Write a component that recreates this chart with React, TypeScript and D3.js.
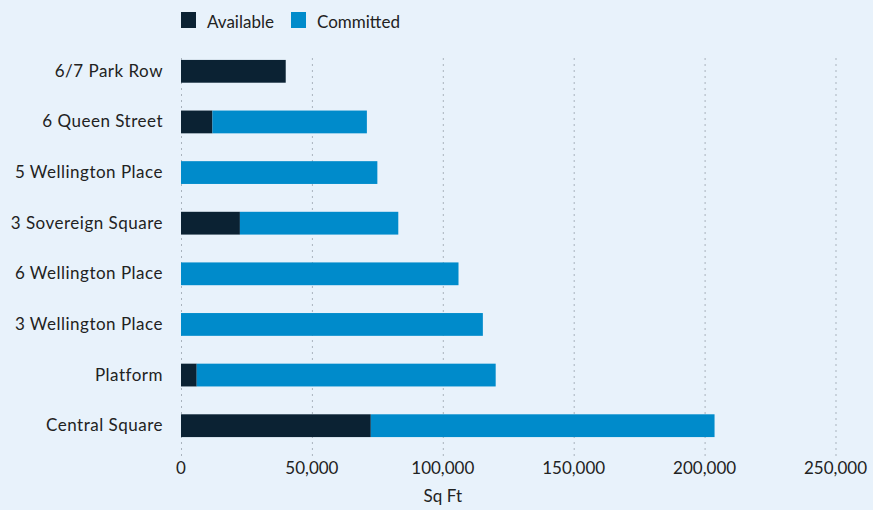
import React from "react";
import * as d3 from "d3";

const categories = [
  "6/7 Park Row",
  "6 Queen Street",
  "5 Wellington Place",
  "3 Sovereign Square",
  "6 Wellington Place",
  "3 Wellington Place",
  "Platform",
  "Central Square",
];
const available = [40000, 12000, 0, 22500, 0, 0, 6000, 72500];
const committed = [0, 59000, 75000, 60500, 106000, 115300, 114200, 131300];
const xTicks = [0, 50000, 100000, 150000, 200000, 250000];
const seriesNames = ["Available", "Committed"];
const seriesColors = ["#0b2233", "#008bcb"];

const W = 873;
const H = 510;
const FONT = "Lato, 'Open Sans', sans-serif";

export default function App() {
  const x = d3.scaleLinear().domain([0, 250000]).range([181, 835.5]);
  const y = d3
    .scaleBand<string>()
    .domain(categories)
    .range([46, 451])
    .paddingInner(0.55)
    .paddingOuter(0.275);
  const fmt = d3.format(",");
  const stack = categories.map((c, i) => ({
    c,
    a: available[i],
    m: committed[i],
  }));
  return (
    <svg
      width={W}
      height={H}
      style={{ position: "absolute", left: 0, top: 0, background: "#e8f2fb" }}
    >
      <rect x={0} y={0} width={W} height={H} fill="#e8f2fb" />
      {/* grid */}
      {xTicks.map((t) => (
        <line
          key={t}
          x1={x(t) + 0.5}
          x2={x(t) + 0.5}
          y1={58}
          y2={456}
          stroke="#a9b3bd"
          strokeWidth={1}
          strokeDasharray="2,4"
        />
      ))}
      {/* bars */}
      {stack.map((d) => (
        <g key={d.c}>
          {d.a > 0 && (
            <rect
              x={x(0)}
              y={y(d.c)!}
              width={x(d.a) - x(0)}
              height={y.bandwidth()}
              fill={seriesColors[0]}
            />
          )}
          {d.m > 0 && (
            <rect
              x={x(d.a)}
              y={y(d.c)!}
              width={x(d.a + d.m) - x(d.a)}
              height={y.bandwidth()}
              fill={seriesColors[1]}
            />
          )}
          <text
            x={163}
            y={y(d.c)! + y.bandwidth() / 2 - 1}
            textAnchor="end"
            dominantBaseline="central"
            fontFamily={FONT}
            fontSize={17}
            letterSpacing={0.5}
            fill="#222"
          >
            {d.c}
          </text>
        </g>
      ))}
      {/* x tick labels */}
      {xTicks.map((t) => (
        <text
          key={t}
          x={x(t)}
          y={467}
          textAnchor="middle"
          dominantBaseline="central"
          fontFamily={FONT}
          fontSize={17}
          fill="#222"
        >
          {fmt(t)}
        </text>
      ))}
      <text
        x={x(100000)}
        y={495}
        textAnchor="middle"
        dominantBaseline="central"
        fontFamily={FONT}
        fontSize={17}
        fill="#222"
      >
        Sq Ft
      </text>
      {/* legend */}
      {seriesNames.map((s, i) => {
        const lx = i === 0 ? 181 : 291;
        return (
          <g key={s}>
            <rect x={lx} y={12} width={15} height={16} fill={seriesColors[i]} />
            <text
              x={lx + 26}
              y={21}
              dominantBaseline="central"
              fontFamily={FONT}
              fontSize={17}
              fill="#222"
            >
              {s}
            </text>
          </g>
        );
      })}
    </svg>
  );
}
